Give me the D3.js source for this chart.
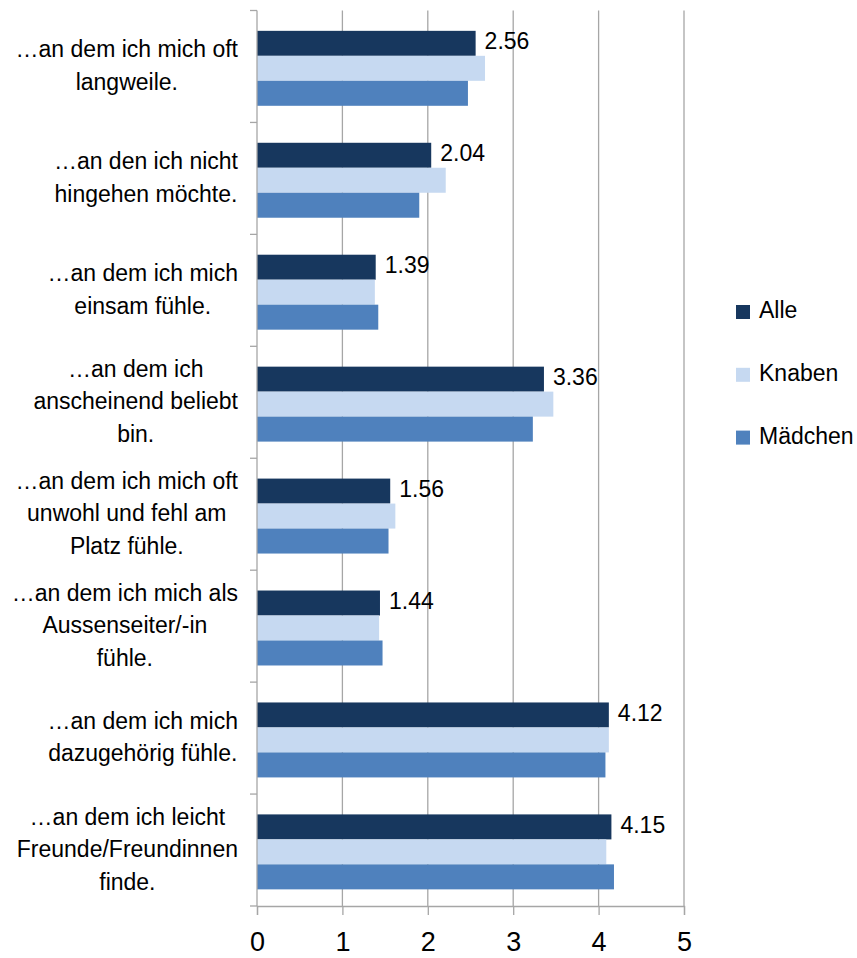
<!DOCTYPE html>
<html>
<head>
<meta charset="utf-8">
<script src="https://cdn.jsdelivr.net/npm/d3@7"></script>
<style>
  html, body { margin: 0; padding: 0; background: #fff; }
  svg { display: block; font-family: "Liberation Sans", Arial, sans-serif; }
</style>
</head>
<body>
<svg id="chart" width="857" height="958"></svg>
<script>
// ---- data ----
const categoryLines = [
  ["…an dem ich mich oft", "langweile."],
  ["…an den ich nicht", "hingehen möchte."],
  ["…an dem ich mich", "einsam fühle."],
  ["…an dem ich", "anscheinend beliebt", "bin."],
  ["…an dem ich mich oft", "unwohl und fehl am", "Platz fühle."],
  ["…an dem ich mich als", "Aussenseiter/-in", "fühle."],
  ["…an dem ich mich", "dazugehörig fühle."],
  ["…an dem ich leicht", "Freunde/Freundinnen", "finde."]
];
const seriesNames = ["Alle", "Knaben", "Mädchen"];
const alle    = [2.56, 2.04, 1.39, 3.36, 1.56, 1.44, 4.12, 4.15];
const knaben  = [2.67, 2.21, 1.38, 3.47, 1.62, 1.43, 4.12, 4.09];
const maedchen= [2.47, 1.90, 1.42, 3.23, 1.54, 1.47, 4.08, 4.18];
const xTicks  = [0, 1, 2, 3, 4, 5];
const colors  = ["#17375E", "#C6D9F1", "#4F81BD"];

(function () {
const seriesValues = [alle, knaben, maedchen];

// ---- layout ----
const svg = d3.select("#chart");
const pLeft = 257, pRight = 684, pTop = 10.5, pBottom = 906;
const gridColor = "#a6a6a6";
const fontSize = 23;

const x = d3.scaleLinear().domain([0, 5]).range([pLeft, pRight]);
const y = d3.scaleBand().domain(d3.range(categoryLines.length)).range([pTop, pBottom]).padding(0);
const ySub = d3.scaleBand().domain(seriesNames).range([0, y.bandwidth()]).paddingInner(0).paddingOuter(0.74).align(0.55);

// gridlines
svg.append("g").selectAll("line").data(xTicks.filter(d => d > 0)).join("line")
  .attr("x1", d => x(d)).attr("x2", d => x(d))
  .attr("y1", pTop).attr("y2", pBottom)
  .attr("stroke", gridColor).attr("stroke-width", 1.3);

// bars
const groups = svg.append("g").selectAll("g").data(categoryLines.map((c, i) => i)).join("g")
  .attr("transform", i => `translate(0,${y(i)})`);
groups.selectAll("rect").data(i => seriesNames.map((s, k) => ({s, k, v: seriesValues[k][i]}))).join("rect")
  .attr("x", x(0))
  .attr("y", d => ySub(d.s))
  .attr("width", d => x(d.v) - x(0))
  .attr("height", ySub.bandwidth())
  .attr("fill", d => colors[d.k]);

// value labels for Alle
groups.append("text")
  .attr("x", i => x(alle[i]) + 9)
  .attr("y", ySub("Alle") + ySub.bandwidth() / 2 + 6)
  .attr("font-size", fontSize)
  .attr("fill", "#000")
  .text(i => d3.format(".2f")(alle[i]));

// left axis line + ticks
svg.append("line").attr("x1", pLeft).attr("x2", pLeft).attr("y1", pTop).attr("y2", pBottom)
  .attr("stroke", gridColor).attr("stroke-width", 1.3);
const boundaries = d3.range(categoryLines.length + 1).map(i => i < categoryLines.length ? y(i) : pBottom);
svg.append("g").selectAll("line").data(boundaries).join("line")
  .attr("x1", pLeft - 7).attr("x2", pLeft).attr("y1", d => d).attr("y2", d => d)
  .attr("stroke", gridColor).attr("stroke-width", 1.3);

// bottom axis
const xAxis = d3.axisBottom(x).tickValues(xTicks).tickFormat(d3.format("d")).tickSize(9).tickPadding(17);
const gx = svg.append("g").attr("transform", `translate(0,${pBottom})`).call(xAxis);
gx.select(".domain").attr("stroke", gridColor).attr("stroke-width", 1.3);
gx.selectAll(".tick line").attr("stroke", gridColor).attr("stroke-width", 1.3);
gx.selectAll(".tick text").attr("font-size", 27).attr("fill", "#000")
  .attr("font-family", "'Liberation Sans', Arial, sans-serif");

// category labels (block right-aligned, lines centered)
const labelRight = 238, lineH = 32.5;
categoryLines.forEach((lines, i) => {
  const g = svg.append("g");
  const cy = y(i) + y.bandwidth() / 2;
  const n = lines.length;
  const texts = lines.map((ln, j) => g.append("text")
    .attr("font-size", fontSize).attr("fill", "#000")
    .attr("y", cy + (j - (n - 1) / 2) * lineH + 7)
    .attr("text-anchor", "middle")
    .text(ln));
  const maxW = d3.max(texts, t => t.node().getComputedTextLength());
  texts.forEach(t => t.attr("x", labelRight - maxW / 2));
});

// legend
const legend = svg.append("g").selectAll("g").data(seriesNames).join("g")
  .attr("transform", (d, i) => `translate(736,${305 + i * 62.8})`);
legend.append("rect").attr("width", 14).attr("height", 14).attr("fill", (d, i) => colors[i]);
legend.append("text").attr("x", 23).attr("y", 13).attr("font-size", fontSize).attr("fill", "#000").text(d => d);
})();
</script>
</body>
</html>
